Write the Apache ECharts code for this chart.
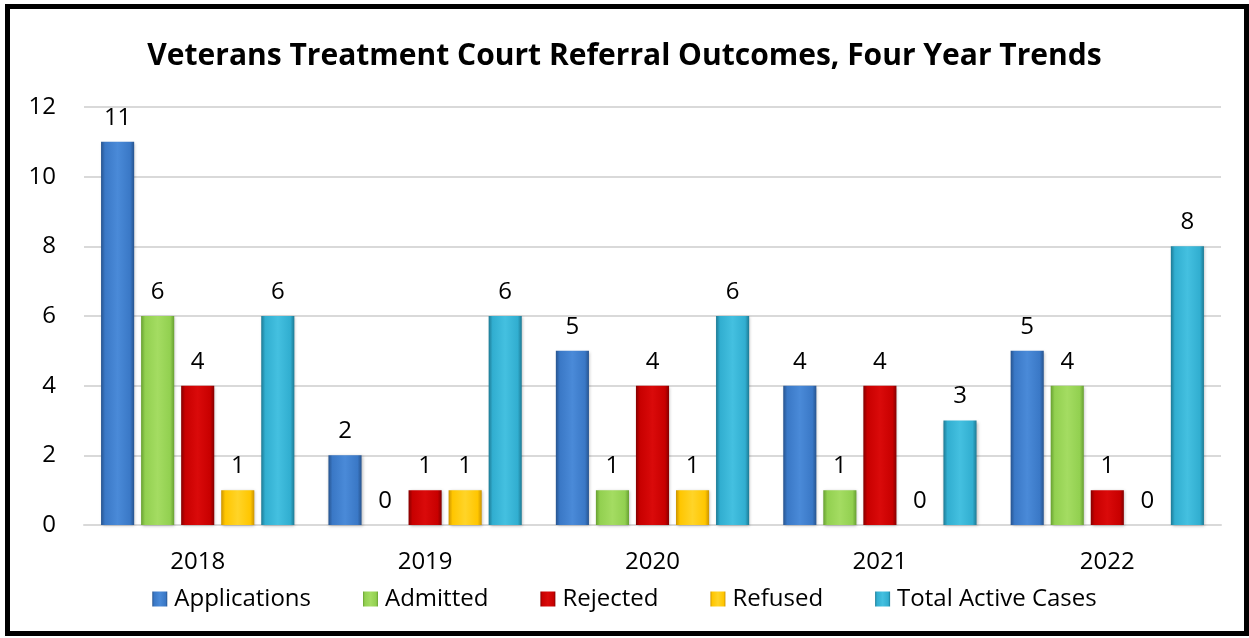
<!DOCTYPE html>
<html>
<head>
<meta charset="utf-8">
<script src="https://cdn.jsdelivr.net/npm/echarts@6/dist/echarts.min.js"></script>
<style>
  html, body { margin: 0; padding: 0; background: #fff; }
  #chart { width: 1249px; height: 638px; }
</style>
</head>
<body>
<div id="chart"></div>
<script>
const years = ['2018', '2019', '2020', '2021', '2022']
const applications = [11, 2, 5, 4, 5]
const admitted = [6, 0, 1, 1, 4]
const rejected = [4, 1, 4, 4, 1]
const refused = [1, 1, 1, 0, 0]
const totalActive = [6, 6, 6, 3, 8]
const yTicks = [0, 2, 4, 6, 8, 10, 12]

const font = '"Open Sans", sans-serif'

// centre, edge, highlight colours for the bevelled look
const palette = {
  Applications: ['#3a78c6', '#27548f', '#4a8ad8'],
  Admitted: ['#92d050', '#68a032', '#a4dc62'],
  Rejected: ['#c80000', '#850000', '#da0a0a'],
  Refused: ['#ffc600', '#cc9400', '#ffd428'],
  'Total Active Cases': ['#31aed0', '#1d7a94', '#44c0e0']
}

const bevel = (name) => {
  const [c, e, h] = palette[name]
  return new echarts.graphic.LinearGradient(0, 0, 1, 0, [
    { offset: 0, color: e },
    { offset: 0.12, color: c },
    { offset: 0.5, color: h },
    { offset: 0.88, color: c },
    { offset: 1, color: e }
  ])
}

const makeSeries = (name, data) => ({
  name,
  type: 'bar',
  data,
  barGap: '21%',
  barCategoryGap: '15%',
  itemStyle: {
    color: bevel(name),
    borderWidth: 0,
    shadowColor: 'rgba(0,0,0,0.25)',
    shadowBlur: 3,
    shadowOffsetX: 1,
    shadowOffsetY: 1
  },
  label: {
    show: true,
    position: 'top',
    distance: 12,
    fontFamily: font,
    fontSize: 24,
    color: '#000'
  }
})

const chart = echarts.init(document.getElementById('chart'))
chart.setOption({
  animation: false,
  color: Object.keys(palette).map(k => palette[k][0]),
  title: {
    text: 'Veterans Treatment Court Referral Outcomes, Four Year Trends',
    left: 'center',
    top: 36,
    textStyle: { fontFamily: font, fontSize: 30, fontWeight: 'bold', color: '#000' }
  },
  graphic: [{
    type: 'rect',
    shape: { x: 7.5, y: 6.5, width: 1239, height: 627 },
    style: { fill: 'none', stroke: '#000', lineWidth: 5 },
    silent: true
  }],
  legend: {
    bottom: 22,
    left: 'center',
    itemWidth: 15,
    itemHeight: 15,
    itemGap: 52,
    icon: 'rect',
    textStyle: { fontFamily: font, fontSize: 24, color: '#000', padding: [0, 0, 0, 2] },
    data: Object.keys(palette)
  },
  grid: { left: 84, right: 28, top: 107, bottom: 113 },
  xAxis: {
    type: 'category',
    data: years,
    axisTick: { show: false },
    axisLine: { lineStyle: { color: '#d9d9d9', width: 2 } },
    axisLabel: { fontFamily: font, fontSize: 24, color: '#000', margin: 25 }
  },
  yAxis: {
    type: 'value',
    min: yTicks[0],
    max: yTicks[yTicks.length - 1],
    interval: 2,
    axisLine: { show: false },
    axisTick: { show: false },
    splitLine: { lineStyle: { color: '#d9d9d9', width: 2 } },
    axisLabel: { fontFamily: font, fontSize: 24, color: '#000', margin: 28 }
  },
  series: [
    makeSeries('Applications', applications),
    makeSeries('Admitted', admitted),
    makeSeries('Rejected', rejected),
    makeSeries('Refused', refused),
    makeSeries('Total Active Cases', totalActive)
  ]
})
</script>
</body>
</html>
